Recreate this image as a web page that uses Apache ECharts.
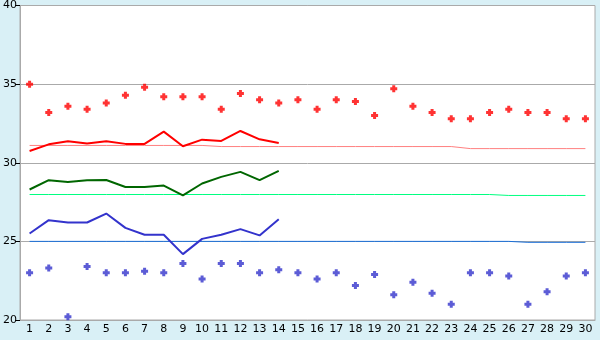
<!DOCTYPE html>
<html>
<head>
<meta charset="utf-8">
<script src="https://cdn.jsdelivr.net/npm/echarts@6/dist/echarts.min.js"></script>
<style>
html,body{margin:0;padding:0;background:#d9f0f6;}
#c{width:600px;height:340px;}
</style>
</head>
<body>
<div id="c"></div>
<script>
var days = ['1','2','3','4','5','6','7','8','9','10','11','12','13','14','15','16','17','18','19','20','21','22','23','24','25','26','27','28','29','30'];
var yTicks = [20, 25, 30, 35, 40];
var redPoints = [35.0,33.2,33.6,33.4,33.8,34.3,34.8,34.2,34.2,34.2,33.4,34.4,34.0,33.8,34.0,33.4,34.0,33.9,33.0,34.7,33.6,33.2,32.8,32.8,33.2,33.4,33.2,33.2,32.8,32.8];
var bluePoints = [23.0,23.3,20.2,23.4,23.0,23.0,23.1,23.0,23.6,22.6,23.6,23.6,23.0,23.2,23.0,22.6,23.0,22.2,22.9,21.6,22.4,21.7,21.0,23.0,23.0,22.8,21.0,21.8,22.8,23.0];
var redLine = [30.75,31.17,31.37,31.22,31.37,31.2,31.2,31.98,31.05,31.47,31.39,32.02,31.49,31.26];
var greenLine = [28.3,28.89,28.78,28.89,28.9,28.46,28.46,28.55,27.92,28.68,29.1,29.42,28.89,29.48];
var blueLine = [25.5,26.35,26.2,26.2,26.77,25.86,25.42,25.42,24.19,25.16,25.42,25.78,25.38,26.41];
var pinkRef = [31.1,31.1,31.1,31.1,31.1,31.1,31.1,31.1,31.1,31.1,31.03,31.03,31.03,31.03,31.03,31.03,31.03,31.03,31.03,31.03,31.03,31.03,31.03,30.9,30.9,30.9,30.9,30.9,30.9,30.9];
var greenRef = [27.98,27.98,27.98,27.98,27.98,27.98,27.98,27.98,27.98,27.98,27.98,27.98,27.98,27.98,27.98,27.98,27.98,27.98,27.98,27.98,27.98,27.98,27.98,27.98,27.98,27.92,27.92,27.92,27.92,27.92];
var blueRef = [25.0,25.0,25.0,25.0,25.0,25.0,25.0,25.0,25.0,25.0,25.0,25.0,25.0,25.0,25.0,25.0,25.0,25.0,25.0,25.0,25.0,25.0,25.0,25.0,25.0,25.0,24.94,24.94,24.94,24.94];

var plus = 'path://M2,0H5V2H7V5H5V7H2V5H0V2H2Z';
var font = 'DejaVu Sans';

function thin(data, color) {
  return {type:'line', data:data, showSymbol:false, symbol:'none', lineStyle:{color:color, width:1}, z:2, silent:true};
}
function thick(data, color) {
  return {type:'line', data:data, showSymbol:false, symbol:'none', lineStyle:{color:color, width:2}, z:3, silent:true};
}
function pts(data, color) {
  return {type:'scatter', data:data, symbol:plus, symbolSize:7, itemStyle:{color:color}, z:4, silent:true};
}

var chart = echarts.init(document.getElementById('c'));
chart.setOption({
  animation:false,
  backgroundColor:'#d9f0f6',
  grid:{left:20, right:5, top:5, bottom:20, show:true, backgroundColor:'#ffffff', borderColor:'#aaaaaa', borderWidth:1},
  xAxis:{
    type:'category', data:days, boundaryGap:true,
    axisLine:{lineStyle:{color:'#aaaaaa', width:1}},
    axisTick:{alignWithLabel:true, length:5, lineStyle:{color:'#000000'}},
    axisLabel:{color:'#000000', fontFamily:font, fontSize:11, margin:4, interval:0},
    splitLine:{show:false}
  },
  yAxis:{
    type:'value', min:yTicks[0], max:yTicks[yTicks.length-1], interval:5,
    axisLine:{show:true, lineStyle:{color:'#aaaaaa', width:1}},
    axisTick:{show:true, length:5, lineStyle:{color:'#000000'}},
    axisLabel:{color:'#000000', fontFamily:font, fontSize:11, margin:3},
    splitLine:{show:true, lineStyle:{color:'#aaaaaa', width:1}}
  },
  series:[
    thin(pinkRef, '#ff8080'),
    thin(greenRef, '#00ff80'),
    thin(blueRef, '#1a6fd8'),
    thick(redLine, '#ff0000'),
    thick(greenLine, '#006600'),
    thick(blueLine, '#3333cc'),
    pts(redPoints, '#ff0000'),
    pts(bluePoints, '#3333cc')
  ]
});
</script>
</body>
</html>
